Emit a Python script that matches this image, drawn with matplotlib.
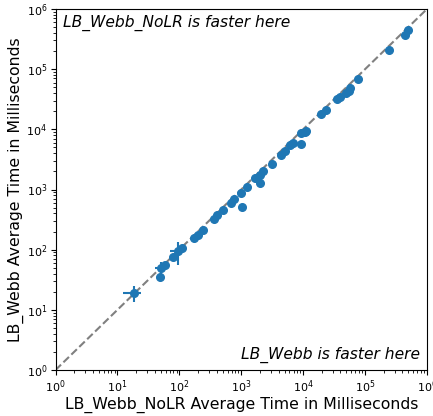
import matplotlib
matplotlib.use("Agg")
import matplotlib.pyplot as plt
import numpy as np

# LB_Webb_NoLR times (x) and LB_Webb times (y), in ms
x_ms = [18.2, 50, 48.5, 58, 78, 94, 110, 170, 202, 239, 368, 407, 502, 686, 776,
        1000, 1023, 1247, 1679, 1972, 2239, 2045, 3133, 4436, 5130, 6030, 6860,
        9120, 9120, 10580, 11220, 19700, 23200, 35800, 39000, 48300, 54600, 56700,
        77600, 246000, 441000, 488000]
y_ms = [19.2, 49, 34.7, 55.5, 74.5, 95, 105, 155, 178, 212, 319, 376, 455, 601, 684,
        881, 505, 1109, 1528, 1734, 2043, 1290, 2700, 3727, 4400, 5470, 5830,
        5610, 8550, 9080, 9440, 17900, 20800, 31400, 33900, 40400, 43600, 47800,
        68200, 212000, 367000, 444000]
x_err = [6, 10, 0, 0, 0, 23, 0, 0, 0, 0, 0, 0, 0, 0, 0,
         0, 0, 0, 0, 0, 0, 0, 0, 0, 0, 0, 0,
         0, 0, 0, 0, 0, 0, 0, 0, 0, 0, 0,
         0, 0, 0, 0]
y_err = [5.6, 14, 0, 0, 0, 40, 0, 0, 0, 0, 0, 0, 0, 0, 0,
         0, 0, 0, 0, 0, 0, 0, 0, 0, 0, 0, 0,
         0, 0, 0, 0, 0, 0, 0, 0, 0, 0, 0,
         0, 0, 0, 0]
limits = [1, 1e6]

W, H = 433, 416
fig = plt.figure(figsize=(W / 100, H / 100), dpi=100)
ax = fig.add_axes([55.5 / W, 1 - 370 / H, (427 - 55.5) / W, (370 - 9) / H])

ax.plot(limits, limits, linestyle="--", color="gray", linewidth=1.5, zorder=1)
ax.errorbar(x_ms, y_ms, xerr=x_err, yerr=y_err, fmt="o", color="#1f77b4",
            markersize=5.5, elinewidth=1.5, capsize=0, zorder=3)

ax.set_xscale("log")
ax.set_yscale("log")
ax.set_xlim(limits)
ax.set_ylim(limits)
ax.tick_params(labelsize=8, pad=2.5)

ax.set_xlabel("LB_Webb_NoLR Average Time in Milliseconds", fontsize=11.3, labelpad=1)
ax.set_ylabel("LB_Webb Average Time in Milliseconds", fontsize=11.3, labelpad=2)

ax.text(0.02, 0.985, "LB_Webb_NoLR is faster here", transform=ax.transAxes,
        ha="left", va="top", fontsize=11.2, style="italic")
ax.text(0.98, 0.02, "LB_Webb is faster here", transform=ax.transAxes,
        ha="right", va="bottom", fontsize=11.2, style="italic")

fig.savefig("out.png", dpi=100)
